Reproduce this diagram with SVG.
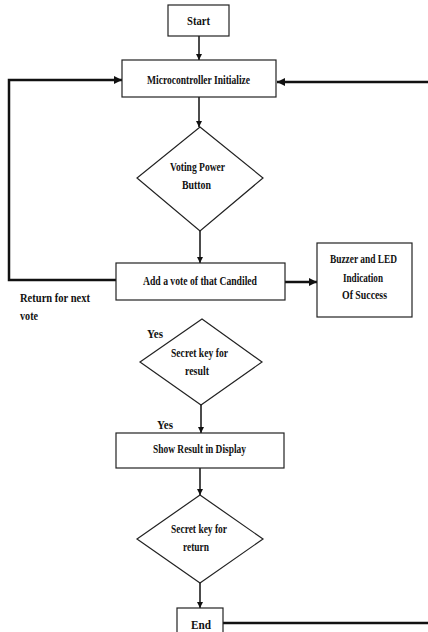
<svg xmlns="http://www.w3.org/2000/svg" width="428" height="632" viewBox="0 0 428 632">
<style>
.box{fill:#fff;stroke:#222;stroke-width:1.2}
.t{font-family:"Liberation Serif","Times New Roman",serif;font-weight:bold;font-size:12px;fill:#111;text-anchor:middle}
.l{font-family:"Liberation Serif","Times New Roman",serif;font-weight:bold;font-size:12.5px;fill:#111}
.c{fill:none;stroke:#111;stroke-width:1.5}
.k{fill:none;stroke:#111;stroke-width:2.5}
</style>
<defs>
<marker id="a" viewBox="0 0 10 10" refX="10" refY="5" markerWidth="6" markerHeight="6" markerUnits="userSpaceOnUse" orient="auto"><path d="M0,0 L10,5 L0,10 z" fill="#111"/></marker>
<marker id="b" viewBox="0 0 10 10" refX="10" refY="5" markerWidth="8" markerHeight="8" markerUnits="userSpaceOnUse" orient="auto"><path d="M0,0 L10,5 L0,10 z" fill="#111"/></marker>
</defs>
<g id="connectors">
<line class="c" x1="199" y1="36" x2="199" y2="60" marker-end="url(#a)"/>
<line class="c" x1="199" y1="97" x2="199" y2="127" marker-end="url(#a)"/>
<line class="c" x1="200" y1="231" x2="200" y2="263" marker-end="url(#a)"/>
<polyline class="k" points="116,280 9,280 9,80 122,80" marker-end="url(#b)"/>
<line class="k" x1="428" y1="82" x2="277" y2="82" marker-end="url(#b)"/>
<line class="k" x1="285" y1="282" x2="317" y2="282" marker-end="url(#b)"/>
<line class="c" x1="201" y1="405" x2="201" y2="433" marker-end="url(#a)"/>
<line class="c" x1="200" y1="468" x2="200" y2="495" marker-end="url(#a)"/>
<line class="c" x1="200" y1="583" x2="200" y2="608" marker-end="url(#a)"/>
<line class="k" x1="223" y1="623" x2="428" y2="623"/>
</g>
<g id="start"><rect class="box" x="168" y="5" width="61" height="31"/><text class="t" x="198.5" y="24.5" textLength="23" lengthAdjust="spacingAndGlyphs">Start</text></g>
<g id="init"><rect class="box" x="122" y="60" width="154" height="37"/><text class="t" x="198.5" y="83.5" textLength="103" lengthAdjust="spacingAndGlyphs">Microcontroller Initialize</text></g>
<g id="voting"><polygon class="box" points="200,127 263,178 200,231 137,178"/><text class="t" x="197.5" y="170.5" textLength="55" lengthAdjust="spacingAndGlyphs">Voting Power</text><text class="t" x="196.5" y="188.5" textLength="29" lengthAdjust="spacingAndGlyphs">Button</text></g>
<g id="addvote"><rect class="box" x="116" y="263" width="169" height="37"/><text class="t" x="200" y="284.5" textLength="114" lengthAdjust="spacingAndGlyphs">Add a vote of that Candiled</text></g>
<g id="buzzer"><rect class="box" x="317" y="243" width="95" height="74"/><text class="t" x="363.5" y="262.5" textLength="67" lengthAdjust="spacingAndGlyphs">Buzzer and LED</text><text class="t" x="363" y="281.5" textLength="40" lengthAdjust="spacingAndGlyphs">Indication</text><text class="t" x="364.5" y="298.5" textLength="45" lengthAdjust="spacingAndGlyphs">Of Success</text></g>
<g id="return-label"><text class="l" x="20" y="301.5" textLength="70" lengthAdjust="spacingAndGlyphs">Return for next</text><text class="l" x="20" y="319.5" textLength="18" lengthAdjust="spacingAndGlyphs">vote</text></g>
<g id="secret-result"><polygon class="box" points="202,319 262,362 201,405 140,362"/><text class="t" x="199.5" y="356.5" textLength="57" lengthAdjust="spacingAndGlyphs">Secret key for</text><text class="t" x="197" y="374.5" textLength="24" lengthAdjust="spacingAndGlyphs">result</text></g>
<g id="yes1"><text class="l" x="147" y="337.5" textLength="16" lengthAdjust="spacingAndGlyphs">Yes</text></g>
<g id="yes2"><text class="l" x="157" y="428.5" textLength="16" lengthAdjust="spacingAndGlyphs">Yes</text></g>
<g id="show"><rect class="box" x="116" y="433" width="168" height="35"/><text class="t" x="199.5" y="452.5" textLength="93" lengthAdjust="spacingAndGlyphs">Show Result in Display</text></g>
<g id="secret-return"><polygon class="box" points="200,495 263,539 200,583 137,539"/><text class="t" x="199" y="532.5" textLength="56" lengthAdjust="spacingAndGlyphs">Secret key for</text><text class="t" x="196" y="550.5" textLength="26" lengthAdjust="spacingAndGlyphs">return</text></g>
<g id="end"><rect class="box" x="177" y="608" width="46" height="30"/><text class="t" x="201" y="628.5" textLength="20" lengthAdjust="spacingAndGlyphs">End</text></g>
</svg>
